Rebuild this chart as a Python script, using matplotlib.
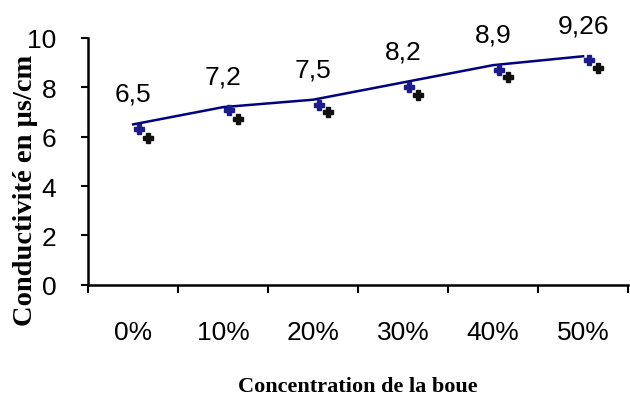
import matplotlib
matplotlib.use("Agg")
import matplotlib.pyplot as plt
import numpy as np

categories = ["0%", "10%", "20%", "30%", "40%", "50%"]
line_vals = [6.5, 7.2, 7.5, 8.2, 8.9, 9.26]
labels = ["6,5", "7,2", "7,5", "8,2", "8,9", "9,26"]
blue_vals = [6.3, 7.1, 7.3, 8.0, 8.7, 9.1]
black_vals = [5.95, 6.7, 7.0, 7.7, 8.4, 8.8]

fig = plt.figure(figsize=(6.3, 4.02), dpi=100)
ax = fig.add_axes([0.14, 0.289, 0.857, 0.614])

x = np.arange(len(categories))
ax.plot(x, line_vals, color="#000080", lw=1.8, zorder=2)
ax.plot(x + 0.07, blue_vals, ls="none", marker="P", ms=7.5, color="#1c1c8c", zorder=3)
ax.plot(x + 0.16, black_vals, ls="none", marker="P", ms=7.5, color="#111111", zorder=3)

for xi, v, t in zip(x, line_vals, labels):
    ax.annotate(t, (xi, v), xytext=(0, 17), textcoords="offset points",
                ha="center", va="baseline", fontsize=19, family="Liberation Sans")

ax.set_xlim(-0.5, 5.5)
ax.set_ylim(0, 10)
ax.set_yticks(range(0, 11, 2))
ax.set_xticks(np.arange(-0.5, 6, 1))
ax.set_xticklabels([])
ax.set_xticks(x, minor=True)
ax.set_xticklabels(categories, minor=True)
ax.tick_params(axis="x", which="minor", length=0, pad=25, labelsize=19)
ax.tick_params(axis="x", which="major", length=6, width=1.5, direction="out")
ax.tick_params(axis="y", length=5, width=1.5, direction="out", pad=18, labelsize=19)
for lab in ax.get_xticklabels(minor=True) + ax.get_yticklabels():
    lab.set_family("Liberation Sans")

for s in ["top", "right"]:
    ax.spines[s].set_visible(False)
for s in ["left", "bottom"]:
    ax.spines[s].set_linewidth(1.8)

ax.set_ylabel("Conductivité en µs/cm", family="Liberation Serif", fontweight="bold",
              fontsize=20.5)
ax.yaxis.set_label_coords(-0.093, 0.385)
ax.set_xlabel("Concentration de la boue", family="Liberation Serif", fontweight="bold",
              fontsize=16)
ax.xaxis.set_label_coords(0.5, -0.37)

fig.savefig("out.png", dpi=100)
